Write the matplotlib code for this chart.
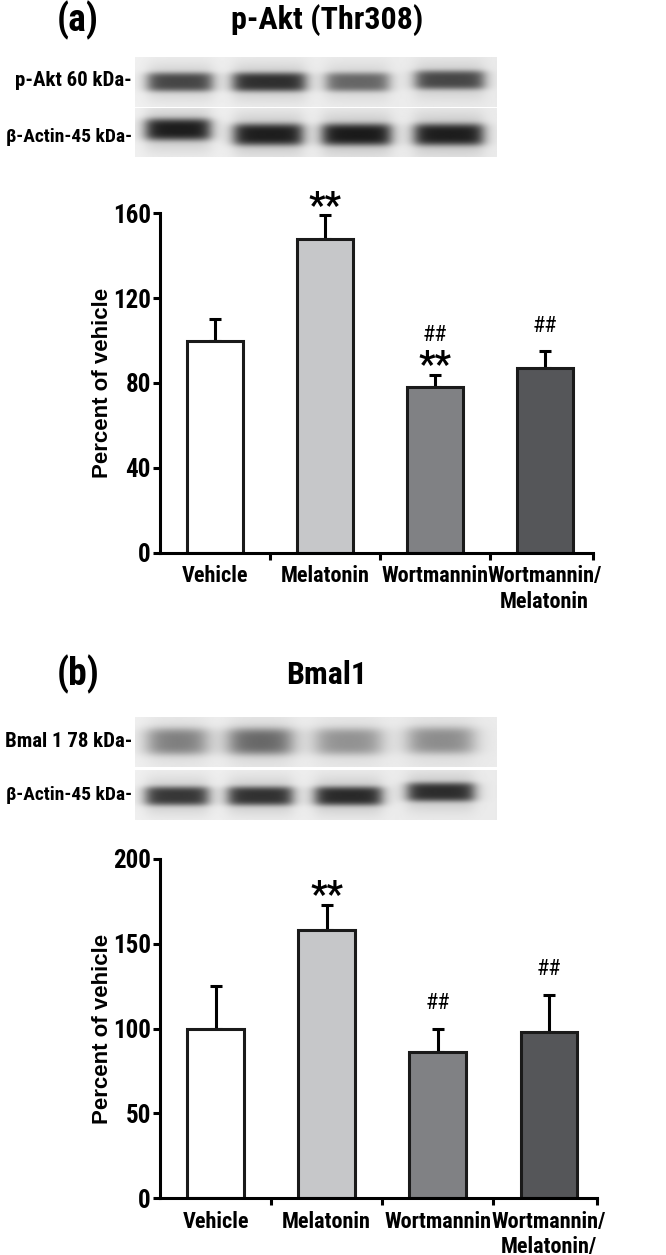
import numpy as np
import matplotlib.pyplot as plt
from matplotlib import font_manager

# pick a bold narrow sans (the figure uses an Arial Narrow-like face)
have = {}
for f in font_manager.fontManager.ttflist:
    have.setdefault(f.name, set()).add(f.weight)
narrow = [n for n in ['Arial Narrow', 'Liberation Sans Narrow', 'Archivo Narrow',
                      'Roboto Condensed', 'PT Sans Narrow', 'Sofia Sans Condensed']
          if n in have]
bold_narrow = [n for n in narrow if max(have[n]) >= 700]
main_font = (bold_narrow + narrow + ['Liberation Sans'])[0]
plt.rcParams['font.family'] = [main_font, 'Liberation Sans', 'DejaVu Sans']
plt.rcParams['font.weight'] = 'bold'
plt.rcParams['axes.labelweight'] = 'bold'

# groups and values
groups_a = ['Vehicle', 'Melatonin', 'Wortmannin', 'Wortmannin/\nMelatonin']
groups_b = ['Vehicle', 'Melatonin', 'Wortmannin', 'Wortmannin/\nMelatonin/']

akt_mean = [100, 148, 78, 87]
akt_sem = [10, 11, 6, 8]
akt_star = ['', '**', '**', '']
akt_hash = ['', '', '##', '##']

bmal_mean = [100, 158, 86, 98]
bmal_sem = [25, 15, 14, 22]
bmal_star = ['', '**', '', '']
bmal_hash = ['', '', '##', '##']

# band darkness (0-1) of the blot strips
akt_band = [0.78, 0.88, 0.62, 0.76]
akt_actin = [0.97, 0.96, 0.97, 0.95]
bmal_band = [0.52, 0.62, 0.42, 0.44]
bmal_actin = [0.85, 0.87, 0.9, 0.88]

bar_colors = ['white', '#c6c7c9', '#808184', '#555659']

W, H = 666, 1255
fig = plt.figure(figsize=(W / 100, H / 100), dpi=100)


def fx(px):
    return px / W


def fy(py):
    return 1 - py / H


def blot(top, bottom, darkness, lanes, halfw, cy, sig, soft=4.0):
    # strip from x=135 to 496 px
    left, right = 135, 496
    nx, ny = right - left, int(round(bottom - top))
    xx, yy = np.meshgrid(np.arange(nx) + 0.5, np.arange(ny) + 0.5)
    img = np.full((ny, nx), 0.94)
    img -= 0.02 * (xx / nx)
    for d, cx, hw, c in zip(darkness, lanes, halfw, cy):
        px = 1 / (1 + np.exp((np.abs(xx - cx) - hw) / soft))
        py = np.exp(-((yy - c) / sig) ** 4 / 2) * 0.75 + np.exp(-((yy - c) / (sig * 1.5)) ** 2 / 2) * 0.25
        img -= 0.85 * d * px * py
    ax = fig.add_axes([fx(left), fy(bottom), fx(nx), (bottom - top) / H])
    ax.imshow(np.clip(img, 0, 1), cmap='gray', vmin=0, vmax=1, aspect='auto',
              interpolation='bilinear')
    ax.axis('off')


def bar_panel(rect, labels, mean, sem, stars, hashes, ymax, step, xmax):
    ax = fig.add_axes(rect)
    x = np.arange(len(mean))
    ax.errorbar(x, mean, yerr=[np.zeros(len(sem)), sem], fmt='none', ecolor='black',
                elinewidth=2.2, capsize=4, capthick=2.2, zorder=1)
    ax.bar(x, mean, width=0.51, color=bar_colors, edgecolor='#1a1a1a', linewidth=2.2, zorder=2)
    for xi, m, s, st, hs in zip(x, mean, sem, stars, hashes):
        top = m + s
        if st:
            ax.annotate(st, (xi, top), xytext=(0, -1), textcoords='offset points',
                        ha='center', va='baseline', fontsize=26, annotation_clip=False)
        if hs:
            off = 24 if st else 14
            ax.annotate(hs, (xi, top), xytext=(0, off), textcoords='offset points',
                        ha='center', va='baseline', fontsize=16, fontweight='normal',
                        annotation_clip=False)
    ax.set_xlim(-0.5, xmax)
    ax.set_ylim(0, ymax)
    ax.spines[['top', 'right']].set_visible(False)
    ax.spines[['left', 'bottom']].set_linewidth(2.2)
    ax.set_yticks(np.arange(0, ymax + 1, step))
    ax.tick_params(axis='y', length=5, width=2.2, pad=1.5, labelsize=18)
    ax.set_xticks([0.5, 1.5, 2.5, xmax], ['', '', '', ''])
    ax.tick_params(axis='x', which='major', length=5, width=2.2)
    ax.set_xticks(x, labels, minor=True)
    ax.tick_params(axis='x', which='minor', length=0, pad=9, labelsize=16)
    ax.set_ylabel('Percent of vehicle', fontsize=16, family=['Liberation Sans', 'DejaVu Sans'])
    ax.yaxis.set_label_coords(-0.108, 0.5)
    return ax


# panel (a)
fig.text(fx(78), fy(20), '(a)', fontsize=27, ha='center', va='center')
fig.text(fx(327), fy(20), 'p-Akt (Thr308)', fontsize=23, ha='center', va='center')
blot(56.7, 106.7, akt_band, [45, 134, 222, 314], [32, 36, 31, 34], [25, 25, 25, 23], 8)
blot(108, 157, akt_actin, [43, 133, 221, 313], [32, 34, 34, 34], [22, 27, 27, 27], 9)
fig.text(fx(132), fy(81), 'p-Akt 60 kDa-', fontsize=15, ha='right', va='center')
fig.text(fx(132), fy(137), 'β-Actin-45 kDa-', fontsize=14, ha='right', va='center')
bar_panel([fx(160), fy(552.7), fx(433), 339.4 / H], groups_a, akt_mean, akt_sem,
          akt_star, akt_hash, 160, 40, 3.44)

# panel (b)
fig.text(fx(78), fy(674), '(b)', fontsize=27, ha='center', va='center')
fig.text(fx(327), fy(675), 'Bmal1', fontsize=23, ha='center', va='center')
blot(716.7, 766.7, bmal_band, [42, 125, 213, 305], [29, 31, 32, 32], [25, 25, 25, 24], 11, 6)
blot(770, 820, bmal_actin, [42, 125, 213, 305], [31, 32, 33, 33], [26, 26, 26, 22], 8)
fig.text(fx(132), fy(741), 'Bmal 1 78 kDa-', fontsize=15, ha='right', va='center')
fig.text(fx(132), fy(795), 'β-Actin-45 kDa-', fontsize=14, ha='right', va='center')
bar_panel([fx(160), fy(1198.3), fx(436.7), 339.3 / H], groups_b, bmal_mean, bmal_sem,
          bmal_star, bmal_hash, 200, 50, 3.43)

fig.savefig('out.png', dpi=100)
